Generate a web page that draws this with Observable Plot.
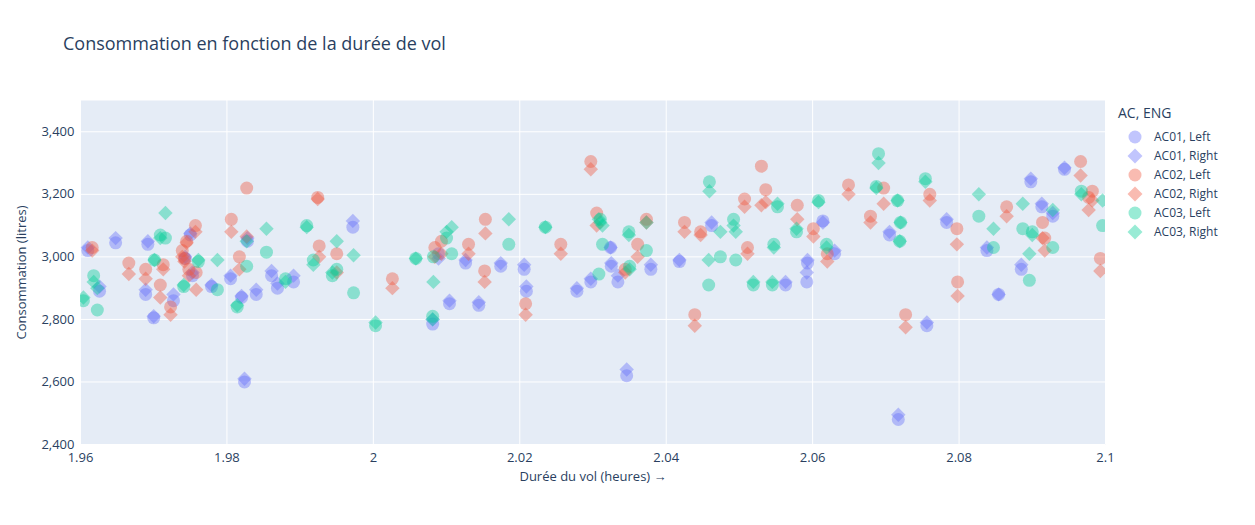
<!DOCTYPE html>
<html><head><meta charset="utf-8">
<script src="https://cdn.jsdelivr.net/npm/d3@7"></script>
<script src="https://cdn.jsdelivr.net/npm/@observablehq/plot@0.6"></script>
<style>
body{margin:0;background:#fff;font-family:"Open Sans",sans-serif;color:#2a3f5f}
#wrap{position:relative;width:1255px;height:525px}
#title{position:absolute;left:63px;top:31px;font-size:18px}
#legend{position:absolute;left:1118px;top:103px;font-size:12px}
#legend .t{font-size:14px;margin-bottom:5px}
#legend .i{display:flex;align-items:center;height:19px}
#legend svg{margin-right:6px}
</style></head><body>
<div id="wrap"><div id="title">Consommation en fonction de la durée de vol</div><div id="chart"></div><div id="legend"></div></div>
<script>
const ac01x=[1.9610,1.9626,1.9648,1.9692,1.9689,1.9700,1.9727,1.9743,1.9750,1.9753,1.9779,1.9805,1.9820,1.9824,1.9828,1.9840,1.9861,1.9869,1.9891,1.9972,2.0081,2.0089,2.0104,2.0126,2.0144,2.0174,2.0206,2.0209,2.0278,2.0297,2.0324,2.0325,2.0334,2.0346,2.0379,2.0418,2.0462,2.0563,2.0592,2.0593,2.0614,2.0630,2.0705,2.0717,2.0756,2.0783,2.0838,2.0854,2.0885,2.0898,2.0913,2.0928,2.0944];
const ac01L=[3020,2890,3045,3040,2880,2805,2860,2995,3070,2940,2905,2930,2870,2600,3050,2880,2940,2900,2920,3095,2785,3010,2850,2980,2845,2970,2960,2890,2890,2920,3030,2970,2920,2620,2960,2985,3100,2910,2920,2980,3115,3010,3070,2480,2780,3110,3020,2880,2960,3240,3160,3130,3280];
const ac01R=[3030,2905,3060,3050,2895,2810,2880,3000,3075,2950,2910,2940,2875,2610,3060,2895,2955,2915,2940,3115,2800,2995,2860,2990,2855,2980,2975,2905,2900,2930,3030,2980,2940,2640,2975,2990,3110,2920,2950,2990,3110,3020,3080,2495,2790,3120,3030,2880,2975,3250,3170,3140,3285];
const ac02x=[1.9616,1.9666,1.9689,1.9709,1.9713,1.9723,1.9739,1.9742,1.9745,1.9748,1.9757,1.9758,1.9806,1.9817,1.9827,1.9924,1.9926,1.9950,2.0026,2.0084,2.0093,2.0130,2.0153,2.0152,2.0208,2.0256,2.0297,2.0305,2.0344,2.0361,2.0373,2.0425,2.0439,2.0447,2.0511,2.0507,2.0530,2.0536,2.0579,2.0601,2.0620,2.0649,2.0679,2.0697,2.0727,2.0760,2.0797,2.0798,2.0865,2.0914,2.0917,2.0966,2.0977,2.0982,2.0993];
const ac02L=[3030,2980,2960,2910,2975,2840,3020,2995,3050,2960,3100,2950,3120,3000,3220,3190,3035,3010,2930,3030,3050,3040,3120,2955,2850,3040,3305,3140,2960,3040,3120,3110,2815,3080,3030,3185,3290,3215,3165,3090,3010,3230,3130,3220,2815,3200,3090,2920,3160,3110,3060,3305,3190,3210,2995];
const ac02R=[3020,2945,2930,2870,2960,2815,3000,2985,3045,2940,3080,2895,3080,2960,3065,3185,3000,2950,2900,3000,3010,3010,3075,2920,2815,3010,3280,3100,2950,3000,3110,3080,2780,3070,3010,3160,3165,3175,3120,3065,2985,3200,3110,3170,2775,3180,3040,2875,3130,3060,3020,3260,3150,3180,2955];
const ac03x=[1.9604,1.9618,1.9623,1.9701,1.9709,1.9716,1.9741,1.9761,1.9787,1.9814,1.9827,1.9854,1.9880,1.9909,1.9918,1.9944,1.9950,1.9973,2.0003,2.0058,2.0081,2.0082,2.0100,2.0107,2.0185,2.0235,2.0308,2.0310,2.0313,2.0349,2.0350,2.0373,2.0458,2.0459,2.0474,2.0492,2.0495,2.0519,2.0545,2.0547,2.0552,2.0578,2.0608,2.0619,2.0690,2.0687,2.0716,2.0719,2.0720,2.0754,2.0827,2.0847,2.0887,2.0896,2.0900,2.0928,2.0967,2.0996];
const ac03L=[2860,2940,2830,2990,3070,3060,2905,2985,2895,2840,2970,3015,2930,3100,2990,2940,2960,2885,2780,2995,2810,3000,3060,3010,3040,3095,2945,3120,3040,3080,2970,3020,2910,3240,3000,3120,2990,2910,2910,3040,3160,3080,3180,3040,3330,3225,3180,3050,3110,3250,3130,3030,3090,2925,3080,3030,3210,3100];
const ac03R=[2870,2920,2900,2990,3060,3140,2910,2990,2990,2845,3050,3090,2920,3095,2975,2950,3050,3005,2790,2995,2800,2920,3080,3095,3120,3095,3120,3110,3100,3070,2960,3110,2990,3210,3080,3100,3080,2920,2920,3030,3170,3090,3175,3030,3300,3220,3180,3050,3110,3240,3200,3090,3170,3010,3070,3150,3200,3180];
const xTicks=[1.96,1.98,2,2.02,2.04,2.06,2.08,2.1];
const yTicks=[2400,2600,2800,3000,3200,3400];
const series=[["AC01",ac01x,ac01L,ac01R,"#636efa"],["AC02",ac02x,ac02L,ac02R,"#EF553B"],["AC03",ac03x,ac03L,ac03R,"#00cc96"]];
const rows=[];
for(const [ac,xs,L,R,c] of series){
  xs.forEach((x,i)=>{rows.push({x,y:L[i],k:ac+", Left",c,s:"circle"});});
  xs.forEach((x,i)=>{rows.push({x,y:R[i],k:ac+", Right",c,s:"diamond2"});});
}
const chart=Plot.plot({
  width:1255,height:525,marginLeft:80,marginRight:150,marginTop:100,marginBottom:81,
  style:{fontFamily:"Open Sans",fontSize:"12px",color:"#2a3f5f",background:"transparent"},
  x:{domain:[1.96,2.1],ticks:xTicks,tickFormat:d=>String(+d.toFixed(2)),tickSize:0,tickPadding:8,label:"Durée du vol (heures)",labelAnchor:"center",labelOffset:36},
  y:{domain:[2400,3500],ticks:yTicks,tickSize:0,tickPadding:6,label:"Consommation (litres)",labelAnchor:"center",labelOffset:64},
  marks:[
    Plot.frame({fill:"#E5ECF6",stroke:null}),
    Plot.gridX(xTicks,{stroke:"white",strokeOpacity:1,strokeWidth:1}),
    Plot.gridY(yTicks,{stroke:"white",strokeOpacity:1,strokeWidth:1}),
    Plot.dot(rows,{x:"x",y:"y",fill:d=>d.c,symbol:d=>d.s,r:6.5,fillOpacity:0.4,stroke:null,clip:true}),
    Plot.axisX({ticks:xTicks,tickFormat:d=>String(+d.toFixed(2)),tickSize:0,tickPadding:8,label:"Durée du vol (heures)",labelAnchor:"center",labelOffset:36,fontSize:13}),
    Plot.axisY({ticks:yTicks,tickSize:0,tickPadding:6,label:"Consommation (litres)",labelAnchor:"center",labelOffset:64,labelArrow:"none",fontSize:13})
  ],
  symbol:{type:"identity"},color:{type:"identity"}
});
document.getElementById("chart").appendChild(chart);
const lg=document.getElementById("legend");
let h='<div class="t">AC, ENG</div>';
for(const [ac,,,,c] of series){
  h+=`<div class="i"><svg width="30" height="16"><circle cx="17" cy="8" r="6.5" fill="${c}" fill-opacity="0.4"/></svg>${ac}, Left</div>`;
  h+=`<div class="i"><svg width="30" height="16"><path d="M17 0.5L24.5 8L17 15.5L9.5 8Z" fill="${c}" fill-opacity="0.4"/></svg>${ac}, Right</div>`;
}
lg.innerHTML=h;
</script></body></html>
